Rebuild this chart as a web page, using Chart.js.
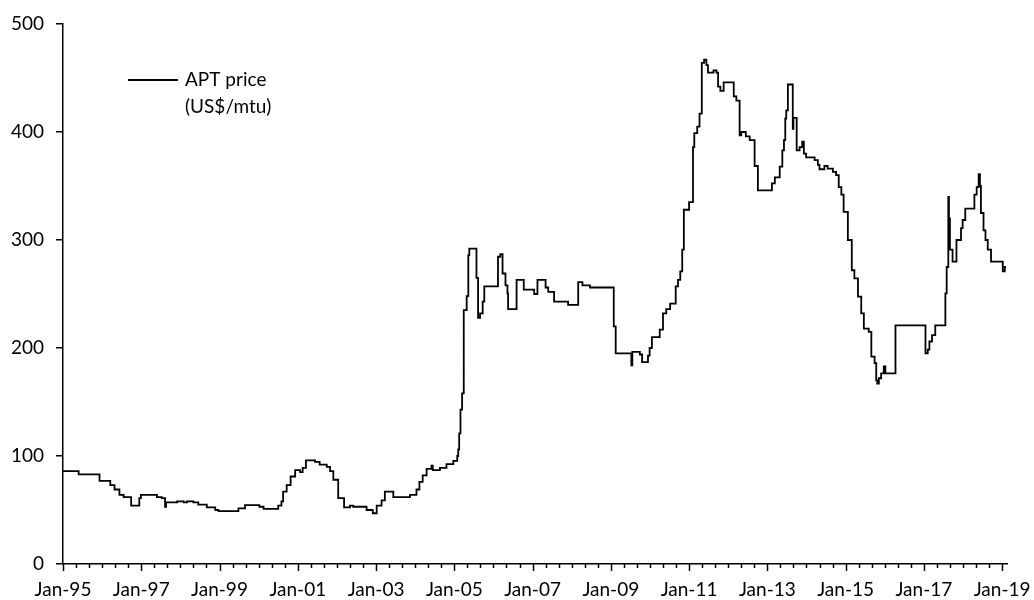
<!DOCTYPE html>
<html>
<head>
<meta charset="utf-8">
<script src="https://cdn.jsdelivr.net/npm/chart.js@4"></script>
<style>
  body { margin: 0; background: #fff; }
</style>
</head>
<body>
<canvas id="aptChart" width="1034" height="600"></canvas>
<script>
// APT price, US$/mtu (value holds until next date)
const dates = [
  "1995-01-01", "1995-05-25", "1995-12-07", "1996-03-16", "1996-04-25", "1996-06-10", "1996-07-19", "1996-09-28",
  "1996-12-13", "1996-12-28", "1997-05-25", "1997-07-10", "1997-08-10", "1997-08-19", "1997-12-01", "1998-02-01",
  "1998-03-01", "1998-05-01", "1998-06-16", "1998-09-04", "1998-11-22", "1998-12-22", "1999-06-25", "1999-08-25",
  "2000-01-07", "2000-02-16", "2000-07-01", "2000-08-01", "2000-08-16", "2000-09-19", "2000-10-25", "2000-12-07",
  "2001-01-22", "2001-02-16", "2001-03-16", "2001-06-10", "2001-07-22", "2001-09-28", "2001-10-28", "2001-11-28",
  "2002-01-13", "2002-03-07", "2002-05-01", "2002-06-01", "2002-10-04", "2002-12-01", "2003-01-07", "2003-02-22",
  "2003-03-22", "2003-06-10", "2003-11-13", "2004-01-13", "2004-02-10", "2004-03-10", "2004-04-16", "2004-06-01",
  "2004-06-13", "2004-08-19", "2004-10-19", "2004-12-22", "2005-01-28", "2005-02-07", "2005-02-16", "2005-02-28",
  "2005-03-13", "2005-03-28", "2005-04-25", "2005-05-10", "2005-05-19", "2005-07-25", "2005-08-10", "2005-08-28",
  "2005-09-22", "2005-10-07", "2006-02-13", "2006-03-04", "2006-03-25", "2006-04-22", "2006-05-10", "2006-05-16",
  "2006-08-04", "2006-10-10", "2007-01-16", "2007-02-16", "2007-05-01", "2007-05-25", "2007-07-19", "2007-11-28",
  "2008-03-01", "2008-04-10", "2008-06-19", "2009-01-28", "2009-02-16", "2009-07-10", "2009-07-19", "2009-09-28",
  "2009-10-19", "2009-12-13", "2009-12-28", "2010-01-19", "2010-04-01", "2010-05-01", "2010-06-01", "2010-07-07",
  "2010-08-28", "2010-09-19", "2010-10-10", "2010-10-28", "2010-11-13", "2011-01-01", "2011-02-07", "2011-02-19",
  "2011-03-16", "2011-04-07", "2011-04-28", "2011-05-19", "2011-06-10", "2011-06-25", "2011-08-16", "2011-09-13",
  "2011-09-28", "2011-10-19", "2011-11-19", "2012-02-22", "2012-03-16", "2012-04-16", "2012-05-01", "2012-06-13",
  "2012-07-19", "2012-09-04", "2012-10-04", "2013-02-13", "2013-03-10", "2013-04-25", "2013-05-19", "2013-06-04",
  "2013-06-16", "2013-06-25", "2013-07-10", "2013-08-25", "2013-09-01", "2013-10-01", "2013-10-28", "2013-11-22",
  "2013-12-07", "2013-12-28", "2014-03-16", "2014-04-16", "2014-05-01", "2014-06-16", "2014-07-16", "2014-09-04",
  "2014-10-04", "2014-10-28", "2014-11-22", "2014-12-13", "2015-01-22", "2015-02-28", "2015-03-22", "2015-04-25",
  "2015-05-25", "2015-06-19", "2015-08-04", "2015-08-28", "2015-09-28", "2015-10-13", "2015-10-22", "2015-11-07",
  "2015-11-28", "2015-12-22", "2016-01-07", "2016-04-10", "2017-01-16", "2017-02-07", "2017-02-22", "2017-03-16",
  "2017-04-16", "2017-07-19", "2017-08-01", "2017-08-16", "2017-08-22", "2017-09-01", "2017-09-25", "2017-11-01",
  "2017-12-13", "2017-12-28", "2018-01-22", "2018-04-16", "2018-05-07", "2018-05-25", "2018-06-07", "2018-06-16",
  "2018-07-10", "2018-07-28", "2018-08-19", "2018-09-19", "2019-01-07", "2019-01-25", "2019-02-07"
];

const prices = [
  86, 83, 77, 73, 69, 64, 62, 54,
  61, 64, 62, 61, 53, 57, 58, 57,
  58, 57, 55, 52.5, 50, 49, 51.5, 54.5,
  53, 51, 54, 58, 67, 73, 81, 87,
  85, 89, 96, 94.5, 92, 90, 86, 78,
  61, 52.5, 54, 53, 50, 47, 54, 59,
  67, 62, 64, 69, 76, 82, 88, 91,
  87, 89, 92.5, 95.5, 100, 106, 121, 143,
  158, 235, 248, 286, 292, 265, 228, 232,
  243, 257, 284.5, 287, 269, 258, 250.5, 236,
  263, 254, 250, 263, 256, 252, 243, 240,
  261, 258, 256, 220, 195, 184, 196.5, 194,
  187, 193, 200, 210, 217, 232, 236, 241,
  257, 263, 271, 291, 328, 335, 386, 399,
  405, 417, 464, 467, 462, 455, 457, 455,
  442, 438, 446, 433, 429, 397, 400, 396,
  392.5, 368.5, 346, 352.5, 358, 368, 383, 392.5,
  412.5, 420, 444, 403, 413, 383, 386, 391,
  380, 376.5, 374, 369.5, 365.5, 368.5, 366, 363,
  360, 349, 342, 326, 300, 272, 264.5, 247.5,
  232, 218, 215, 192, 186, 170, 167, 172,
  176.5, 183, 176.5, 221, 195, 198.5, 206, 212,
  221, 250.5, 275, 340, 320, 291, 280, 300,
  311, 318.5, 329, 342, 349, 361, 350, 325,
  309, 300, 291, 280, 271, 275, 275
];

const tickLabels = ["Jan-95", "Jan-97", "Jan-99", "Jan-01", "Jan-03", "Jan-05", "Jan-07",
  "Jan-09", "Jan-11", "Jan-13", "Jan-15", "Jan-17", "Jan-19"];
const yTicks = [0, 100, 200, 300, 400, 500];
const legendLines = ["APT price", "(US$/mtu)"];

// months since Jan 1995
function toMonths(s) {
  const [y, m, d] = s.split("-").map(Number);
  return (y - 1995) * 12 + (m - 1) + (d - 1) / 30;
}

const points = dates.map((d, i) => ({ x: toMonths(d), y: prices[i] }));
const FONT = { family: "Lato", size: 19 };

// x axis tick marks: long at every 2 years, short every 4 months
const xTickMarks = {
  id: "xTickMarks",
  afterDraw(chart) {
    const { ctx, scales: { x } } = chart;
    const base = chart.chartArea.bottom;
    ctx.save();
    ctx.strokeStyle = "#000";
    ctx.lineWidth = 1.5;
    for (let m = 0; m <= 288; m += 4) {
      const px = Math.round(x.getPixelForValue(m)) + 0.5;
      const len = m % 24 === 0 ? 7 : 4;
      ctx.beginPath();
      ctx.moveTo(px, base);
      ctx.lineTo(px, base + len);
      ctx.stroke();
    }
    ctx.restore();
  }
};

// legend in the top left of the plot
const boxLegend = {
  id: "boxLegend",
  afterDraw(chart) {
    const { ctx } = chart;
    ctx.save();
    ctx.strokeStyle = "#000";
    ctx.lineWidth = 1.8;
    ctx.beginPath();
    ctx.moveTo(128, 80);
    ctx.lineTo(178, 80);
    ctx.stroke();
    ctx.fillStyle = "#000";
    ctx.font = FONT.size + "px " + FONT.family;
    ctx.textBaseline = "middle";
    legendLines.forEach((t, i) => ctx.fillText(t, 185, 80 + i * 27));
    ctx.restore();
  }
};

new Chart(document.getElementById("aptChart"), {
  type: "line",
  data: {
    datasets: [{
      label: legendLines.join(" "),
      data: points,
      borderColor: "#000",
      borderWidth: 1.8,
      pointRadius: 0,
      stepped: true,
      fill: false
    }]
  },
  options: {
    responsive: false,
    animation: false,
    layout: { padding: { top: 24, right: 27, bottom: 0, left: 0 } },
    plugins: { legend: { display: false }, tooltip: { enabled: false } },
    scales: {
      x: {
        type: "linear",
        min: 0,
        max: 289.5,
        border: { display: true, color: "#000", width: 1.5 },
        grid: { display: false, drawTicks: false },
        afterFit: (s) => { s.height = 36; s.paddingLeft = 0; s.paddingRight = 0; },
        ticks: {
          stepSize: 4,
          includeBounds: false,
          autoSkip: false,
          maxRotation: 0,
          padding: 14,
          color: "#000",
          font: FONT,
          callback: (v) => (v % 24 === 0 ? tickLabels[v / 24] : "")
        }
      },
      y: {
        min: 0,
        max: 500,
        border: { display: true, color: "#000", width: 1.5 },
        grid: { drawOnChartArea: false, tickLength: 7, color: "#000", lineWidth: 1.5 },
        afterFit: (s) => { s.width = 63; },
        afterBuildTicks: (s) => { s.ticks = yTicks.map((v) => ({ value: v })); },
        ticks: { padding: 12, color: "#000", font: FONT }
      }
    }
  },
  plugins: [xTickMarks, boxLegend]
});
</script>
</body>
</html>
